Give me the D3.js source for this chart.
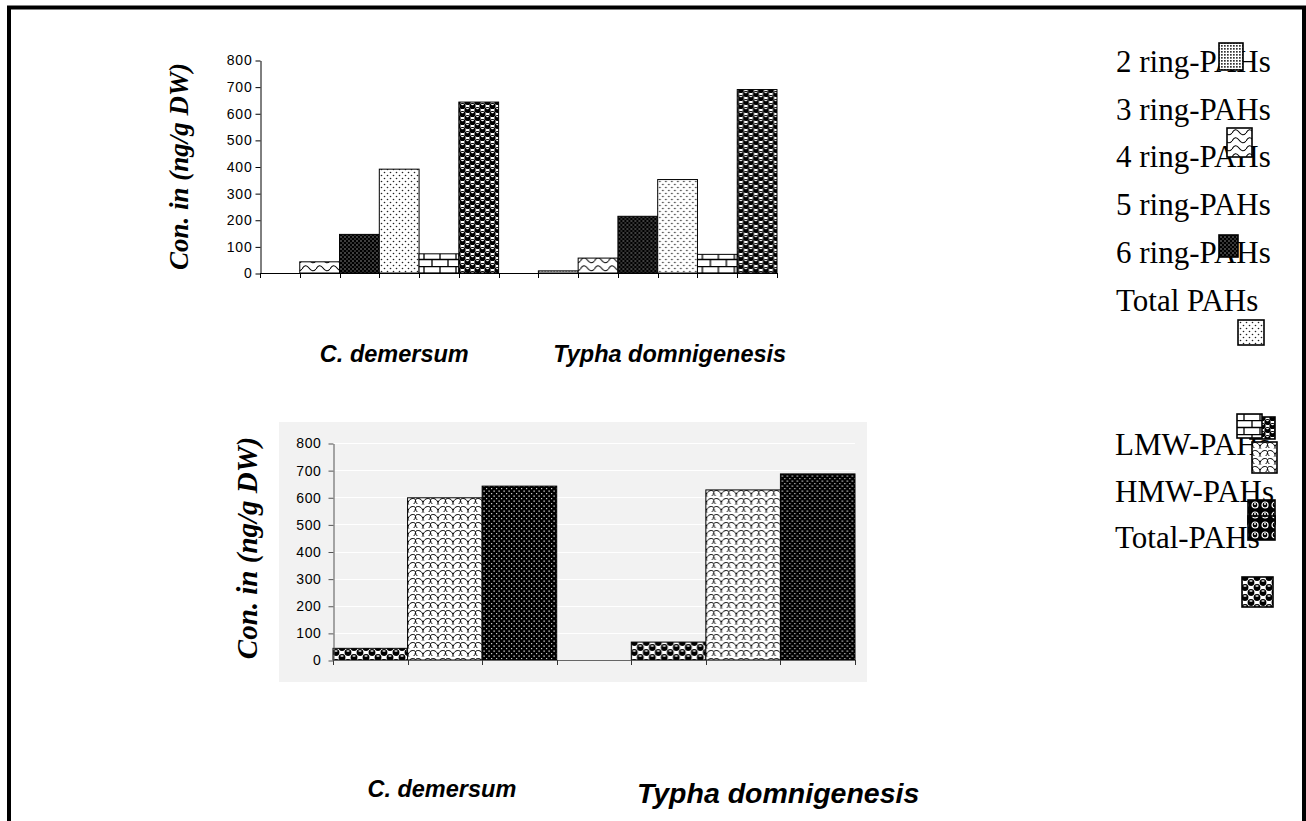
<!DOCTYPE html>
<html>
<head>
<meta charset="utf-8">
<script src="https://cdn.jsdelivr.net/npm/d3@7"></script>
<style>
  html, body { margin: 0; padding: 0; background: #fff; }
  svg { display: block; }
</style>
</head>
<body>
<div id="chart"></div>
<script>
"use strict";

//-----------------------------DATA-----------------------------//
const plants = ["C. demersum", "Typha domnigenesis"];
const rings = ["2 ring-PAHs", "3 ring-PAHs", "4 ring-PAHs", "5 ring-PAHs", "6 ring-PAHs", "Total PAHs"];
const ringDemersum = [0, 42, 145, 390, 72, 642];
const ringTypha = [8, 56, 213, 351, 70, 689];
const weights = ["LMW-PAHs", "HMW-PAHs", "Total-PAHs"];
const weightDemersum = [43, 598, 641];
const weightTypha = [66, 627, 686];
const yTicks = [0, 100, 200, 300, 400, 500, 600, 700, 800];
const yTitle = "Con. in (ng/g DW)";

//----------------------------STYLE-----------------------------//
const ringFills = ["fineDots", "wave", "darkDots", "lightDots", "brick", "balls"];
const weightFills = ["balls2", "scales", "darkDots2"];

// legend swatches land where the source document left them
const topSwatches = [
    { p: "fineDots", x: 1219, y: 43, w: 24, h: 27 },
    { p: "wave", x: 1227, y: 128, w: 25, h: 29 },
    { p: "darkDots", x: 1219, y: 235, w: 19, h: 22 },
    { p: "lightDots", x: 1238, y: 320, w: 26, h: 25 }
];
const lowSwatches = [
    { p: "balls", x: 1250, y: 417, w: 25, h: 22 },
    { p: "brick", x: 1237, y: 414, w: 25, h: 24 },
    { p: "scales", x: 1252, y: 442, w: 25, h: 31 },
    { p: "circlesInv", x: 1248, y: 500, w: 27, h: 24 },
    { p: "circlesInv", x: 1248, y: 516, w: 27, h: 24 },
    { p: "balls2", x: 1242, y: 577, w: 31, h: 30 }
];

const W = 1306, H = 821;
const sans = "'Liberation Sans', Arial, sans-serif";
const serif = "'Liberation Serif', 'Times New Roman', serif";

const svg = d3.select("#chart").append("svg")
    .attr("width", W)
    .attr("height", H);

svg.append("rect").attr("width", W).attr("height", H).attr("fill", "#fff");

//---------------------------PATTERNS---------------------------//
const defs = svg.append("defs");
const pat = (id, w, h, bg, draw) => {
    const p = defs.append("pattern")
        .attr("id", id)
        .attr("patternUnits", "userSpaceOnUse")
        .attr("width", w)
        .attr("height", h);
    p.append("rect").attr("width", w).attr("height", h).attr("fill", bg);
    draw(p);
};

pat("fineDots", 3, 3, "#fff", p => {
    p.append("rect").attr("width", 1.7).attr("height", 1.7).attr("fill", "#333");
});
pat("wave", 14, 8, "#fff", p => {
    p.append("path").attr("d", "M0,5 Q3.5,-1 7,4 T14,5 M0,13 Q3.5,7 7,12 T14,13 M0,-3 Q3.5,-9 7,-4 T14,-3")
        .attr("fill", "none").attr("stroke", "#000").attr("stroke-width", 1.1);
});
pat("darkDots", 4, 4, "#000", p => {
    p.append("rect").attr("x", 0.5).attr("y", 0.5).attr("width", 1).attr("height", 1).attr("fill", "#fff");
    p.append("rect").attr("x", 2.5).attr("y", 2.5).attr("width", 1).attr("height", 1).attr("fill", "#bbb");
});
pat("darkDots2", 5, 5, "#000", p => {
    p.append("rect").attr("x", 0.5).attr("y", 0.5).attr("width", 1.2).attr("height", 1.2).attr("fill", "#fff");
    p.append("rect").attr("x", 3).attr("y", 3).attr("width", 1.2).attr("height", 1.2).attr("fill", "#ccc");
});
pat("lightDots", 6, 6, "#fff", p => {
    p.append("circle").attr("cx", 1.5).attr("cy", 1.5).attr("r", 0.8).attr("fill", "#222");
    p.append("circle").attr("cx", 4.5).attr("cy", 4.5).attr("r", 0.8).attr("fill", "#222");
});
pat("brick", 16, 14, "#fff", p => {
    p.append("path").attr("d", "M0,0.5H16M0,7.5H16M4,0.5V7.5M12,7.5V14")
        .attr("fill", "none").attr("stroke", "#000").attr("stroke-width", 1.3);
});
const ball = (p, cx, cy, r) => {
    p.append("circle").attr("cx", cx).attr("cy", cy).attr("r", r).attr("fill", "#000");
    p.append("ellipse").attr("cx", cx).attr("cy", cy - r * 0.45).attr("rx", r * 0.5).attr("ry", r * 0.2).attr("fill", "#fff");
};
pat("balls", 10, 8, "#fff", p => {
    ball(p, 2.5, 2, 3.1);
    ball(p, 7.5, 6, 3.1);
    ball(p, 12.5, 2, 3.1);
    ball(p, -2.5, 6, 3.1);
    ball(p, 7.5, -2, 3.1);
    ball(p, 2.5, 10, 3.1);
});
pat("balls2", 12, 10, "#fff", p => {
    ball(p, 3, 2.5, 3.4);
    ball(p, 9, 7.5, 3.4);
    ball(p, 15, 2.5, 3.4);
    ball(p, -3, 7.5, 3.4);
    ball(p, 9, -2.5, 3.4);
    ball(p, 3, 12.5, 3.4);
});
pat("scales", 15, 8, "#fff", p => {
    p.append("path").attr("d", "M0,8 C0,2 7.5,1 7.5,4.5 C7.5,1 15,2 15,8 M7.5,4.5 C7.5,8 3.75,8 3.75,12 M7.5,4.5 C7.5,8 11.25,8 11.25,12 M3.75,-4 C3.75,0 0,0 0,0 M11.25,-4 C11.25,0 15,0 15,0")
        .attr("fill", "none").attr("stroke", "#000").attr("stroke-width", 1);
});
pat("circlesInv", 10, 10, "#000", p => {
    p.append("circle").attr("cx", 5).attr("cy", 5).attr("r", 3).attr("fill", "none").attr("stroke", "#fff").attr("stroke-width", 1.2);
    p.append("circle").attr("cx", 5).attr("cy", 4).attr("r", 1).attr("fill", "#fff");
});

//--------------------------FRAME-------------------------------//
svg.append("path")
    .attr("d", `M9,${H} V7.5 H1304 V${H}`)
    .attr("fill", "none")
    .attr("stroke", "#000")
    .attr("stroke-width", 4);

//-----------------------TOP CHART (rings)----------------------//
const ringRows = [ringDemersum, ringTypha];
const x0 = d3.scaleBand().domain(plants).range([260, 777]).paddingInner(1 / 7).paddingOuter(0);
const x1 = d3.scaleBand().domain(rings).range([0, x0.bandwidth()]);
const y = d3.scaleLinear().domain([0, 800]).range([273, 60]);

const topG = svg.append("g");

topG.selectAll("g.grp")
    .data(plants)
    .join("g")
    .attr("class", "grp")
    .attr("transform", d => `translate(${x0(d)},0)`)
    .selectAll("rect")
    .data((d, i) => rings.map((r, j) => ({ r, v: ringRows[i][j], fill: ringFills[j] })))
    .join("rect")
    .attr("x", d => x1(d.r))
    .attr("y", d => y(d.v))
    .attr("width", x1.bandwidth())
    .attr("height", d => y(0) - y(d.v))
    .attr("fill", d => `url(#${d.fill})`)
    .attr("stroke", "#000")
    .attr("stroke-width", d => d.v > 0 ? 1 : 0);

// category axis, a tick at every bar edge
topG.append("line")
    .attr("x1", x0.range()[0]).attr("x2", x0.range()[1])
    .attr("y1", y(0) + 0.5).attr("y2", y(0) + 0.5)
    .attr("stroke", "#000");
const topTicks = plants.flatMap(p => d3.range(rings.length + 1).map(i => x0(p) + i * x1.step()));
topG.selectAll("line.tk")
    .data(topTicks)
    .join("line")
    .attr("class", "tk")
    .attr("x1", d => Math.round(d) + 0.5).attr("x2", d => Math.round(d) + 0.5)
    .attr("y1", y(0)).attr("y2", y(0) + 5)
    .attr("stroke", "#000");

const yAxisTop = topG.append("g")
    .attr("transform", "translate(260.5,0.5)")
    .call(d3.axisLeft(y).tickValues(yTicks).tickSize(5).tickPadding(3).tickSizeOuter(0));
yAxisTop.select(".domain").attr("stroke", "#000");
yAxisTop.selectAll(".tick text")
    .attr("font-family", sans).attr("font-size", 14).attr("letter-spacing", "0.8px").attr("fill", "#000");

topG.append("text")
    .attr("transform", `translate(188,${(y(0) + y(800)) / 2}) rotate(-90)`)
    .attr("text-anchor", "middle")
    .attr("font-family", serif).attr("font-size", 27)
    .attr("font-weight", "bold").attr("font-style", "italic")
    .text(yTitle);

const topCapShift = [15, 12];
topG.selectAll("text.cap")
    .data(plants)
    .join("text")
    .attr("class", "cap")
    .attr("x", (d, i) => x0(d) + x0.bandwidth() / 2 + topCapShift[i])
    .attr("y", 362)
    .attr("text-anchor", "middle")
    .attr("font-family", sans).attr("font-size", 23.5)
    .attr("font-weight", "bold").attr("font-style", "italic")
    .text(d => d);

//-------------------BOTTOM CHART (weights)---------------------//
const weightRows = [weightDemersum, weightTypha];
const xb0 = d3.scaleBand().domain(plants).range([333, 855]).paddingInner(1 / 4).paddingOuter(0);
const xb1 = d3.scaleBand().domain(weights).range([0, xb0.bandwidth()]);
const yb = d3.scaleLinear().domain([0, 800]).range([660, 443]);

const lowG = svg.append("g");

lowG.append("rect")
    .attr("x", 279).attr("y", 422)
    .attr("width", 588).attr("height", 260)
    .attr("fill", "#f2f2f2");

lowG.selectAll("line.grid")
    .data(yTicks.slice(1))
    .join("line")
    .attr("class", "grid")
    .attr("x1", xb0.range()[0]).attr("x2", xb0.range()[1])
    .attr("y1", d => Math.round(yb(d)) + 0.5).attr("y2", d => Math.round(yb(d)) + 0.5)
    .attr("stroke", "#fff").attr("stroke-width", 1.2);

lowG.selectAll("g.grp")
    .data(plants)
    .join("g")
    .attr("class", "grp")
    .attr("transform", d => `translate(${xb0(d)},0)`)
    .selectAll("rect")
    .data((d, i) => weights.map((w, j) => ({ w, v: weightRows[i][j], fill: weightFills[j] })))
    .join("rect")
    .attr("x", d => xb1(d.w))
    .attr("y", d => yb(d.v))
    .attr("width", xb1.bandwidth())
    .attr("height", d => yb(0) - yb(d.v))
    .attr("fill", d => `url(#${d.fill})`)
    .attr("stroke", "#000")
    .attr("stroke-width", 1);

lowG.append("line")
    .attr("x1", xb0.range()[0]).attr("x2", xb0.range()[1])
    .attr("y1", yb(0) + 0.5).attr("y2", yb(0) + 0.5)
    .attr("stroke", "#666");
const lowTicks = plants.flatMap(p => d3.range(weights.length + 1).map(i => xb0(p) + i * xb1.step()));
lowG.selectAll("line.tk")
    .data(lowTicks)
    .join("line")
    .attr("class", "tk")
    .attr("x1", d => Math.round(d) + 0.5).attr("x2", d => Math.round(d) + 0.5)
    .attr("y1", yb(0)).attr("y2", yb(0) + 5)
    .attr("stroke", "#333");

const yAxisLow = lowG.append("g")
    .attr("transform", "translate(333.5,0.5)")
    .call(d3.axisLeft(yb).tickValues(yTicks).tickSize(5).tickPadding(7).tickSizeOuter(0));
yAxisLow.select(".domain").attr("stroke", "#555");
yAxisLow.selectAll(".tick line").attr("stroke", "#555");
yAxisLow.selectAll(".tick text")
    .attr("font-family", sans).attr("font-size", 14).attr("letter-spacing", "0.6px").attr("fill", "#000");

lowG.append("text")
    .attr("transform", `translate(257,548) rotate(-90)`)
    .attr("text-anchor", "middle")
    .attr("font-family", serif).attr("font-size", 29)
    .attr("font-weight", "bold").attr("font-style", "italic")
    .text(yTitle);

const lowCapShift = [-3, 35];
const lowCapSize = [23.5, 28.5];
const lowCapBase = [797, 803];
lowG.selectAll("text.cap")
    .data(plants)
    .join("text")
    .attr("class", "cap")
    .attr("x", (d, i) => xb0(d) + xb0.bandwidth() / 2 + lowCapShift[i])
    .attr("y", (d, i) => lowCapBase[i])
    .attr("text-anchor", "middle")
    .attr("font-family", sans).attr("font-size", (d, i) => lowCapSize[i])
    .attr("font-weight", "bold").attr("font-style", "italic")
    .text(d => d);

//----------------------------LEGENDS---------------------------//
svg.append("g").selectAll("text")
    .data(rings)
    .join("text")
    .attr("x", 1116)
    .attr("y", (d, i) => 72 + i * 47.7)
    .attr("font-family", serif).attr("font-size", 31)
    .attr("fill", "#000")
    .text(d => d);

svg.append("g").selectAll("text")
    .data(weights)
    .join("text")
    .attr("x", 1115)
    .attr("y", (d, i) => 455 + i * 46.5)
    .attr("font-family", serif).attr("font-size", 31)
    .attr("fill", "#000")
    .text(d => d);

svg.append("g").selectAll("rect")
    .data(topSwatches.concat(lowSwatches))
    .join("rect")
    .attr("x", d => d.x).attr("y", d => d.y)
    .attr("width", d => d.w).attr("height", d => d.h)
    .attr("fill", d => `url(#${d.p})`)
    .attr("stroke", "#000")
    .attr("stroke-width", 1.6);
</script>
</body>
</html>
